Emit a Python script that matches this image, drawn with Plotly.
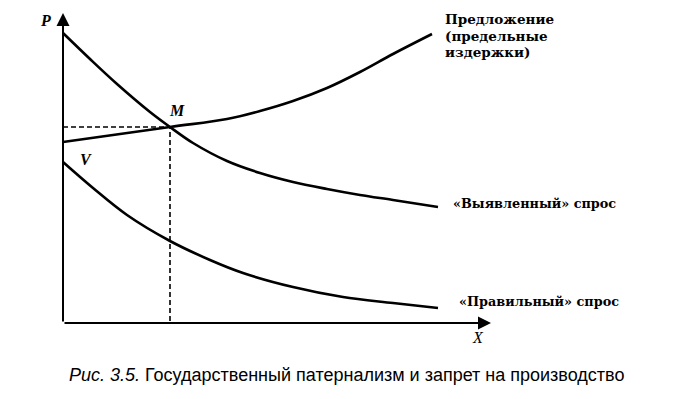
import plotly.graph_objects as go

# Schematic values (arbitrary units: quantity X, price P)
revealed_x = [0, 27, 54, 87, 107, 130, 164, 197, 230, 264, 297, 330, 375]
revealed_y = [290, 264, 239, 211, 196, 180, 162, 150, 141, 134, 128, 123, 116]

supply_x = [0, 107, 164, 197, 230, 264, 297, 330, 369]
supply_y = [181, 196, 204, 212, 222, 235, 251, 269, 289]

proper_x = [0, 30, 64, 107, 147, 180, 230, 280, 330, 375]
proper_y = [161, 135, 108, 82, 63, 50, 36, 26, 20, 15]

eq_x, eq_y = 107, 196
x_axis_max, y_axis_max = 428, 310

supply_label = ["Предложение", "(предельные", "издержки)"]
revealed_label = "«Выявленный» спрос"
proper_label = "«Правильный» спрос"
caption_italic = "Рис. 3.5."
caption_text = " Государственный патернализм и запрет на производство"

serif = "Liberation Serif"
wide_serif = "DejaVu Serif"
sans = "Liberation Sans"

fig = go.Figure()
line_style = dict(color="black", width=2.6, shape="spline", smoothing=1.0)
for xs, ys in [(revealed_x, revealed_y), (supply_x, supply_y), (proper_x, proper_y)]:
    fig.add_trace(go.Scatter(x=xs, y=ys, mode="lines", line=line_style,
                             hoverinfo="skip", showlegend=False))

# dashed guides to equilibrium M
fig.add_trace(go.Scatter(x=[0, eq_x, eq_x], y=[eq_y, eq_y, 0], mode="lines",
                         line=dict(color="black", width=1.6, dash="5px,3px"),
                         hoverinfo="skip", showlegend=False))

annotations = []
# axes with arrows
annotations.append(dict(x=0, y=y_axis_max, ax=0, ay=0, xref="x", yref="y",
                        axref="x", ayref="y", showarrow=True, arrowhead=2,
                        arrowsize=1.3, arrowwidth=2, arrowcolor="black", text=""))
annotations.append(dict(x=x_axis_max, y=0, ax=0, ay=0, xref="x", yref="y",
                        axref="x", ayref="y", showarrow=True, arrowhead=2,
                        arrowsize=1.3, arrowwidth=2, arrowcolor="black", text=""))

def label(x, y, text, size=15, anchor="left", italic=False, bold=True, family=serif):
    t = text
    if bold:
        t = "<b>" + t + "</b>"
    if italic:
        t = "<i>" + t + "</i>"
    annotations.append(dict(x=x, y=y, xref="x", yref="y", text=t, showarrow=False,
                            xanchor=anchor, yanchor="middle",
                            font=dict(family=family, size=size, color="black")))

label(-18, 303, "P", size=16, anchor="center", italic=True)
label(415, -14, "X", size=16, anchor="center", italic=True, bold=False)
label(114, 213, "M", size=16, anchor="center", italic=True)
label(23, 164, "V", size=16, anchor="center", italic=True)
for i, s in enumerate(supply_label):
    label(380, 304 - 16.5 * i, s, size=13.5, family=wide_serif)
label(388, 120, revealed_label, size=12.8, family=wide_serif)
label(394, 22, proper_label, size=12.8, family=wide_serif)

annotations.append(dict(x=4, y=-52, xref="x", yref="y", showarrow=False,
                        xanchor="left", yanchor="middle",
                        text="<i>" + caption_italic + "</i>" + caption_text,
                        font=dict(family=sans, size=18, color="black")))

fig.update_layout(
    width=678, height=399,
    margin=dict(l=0, r=0, t=0, b=0),
    paper_bgcolor="white", plot_bgcolor="white",
    xaxis=dict(range=[-63, 615], visible=False, fixedrange=True),
    yaxis=dict(range=[-76, 323], visible=False, fixedrange=True),
    annotations=annotations,
)
fig.write_html("out.html")
